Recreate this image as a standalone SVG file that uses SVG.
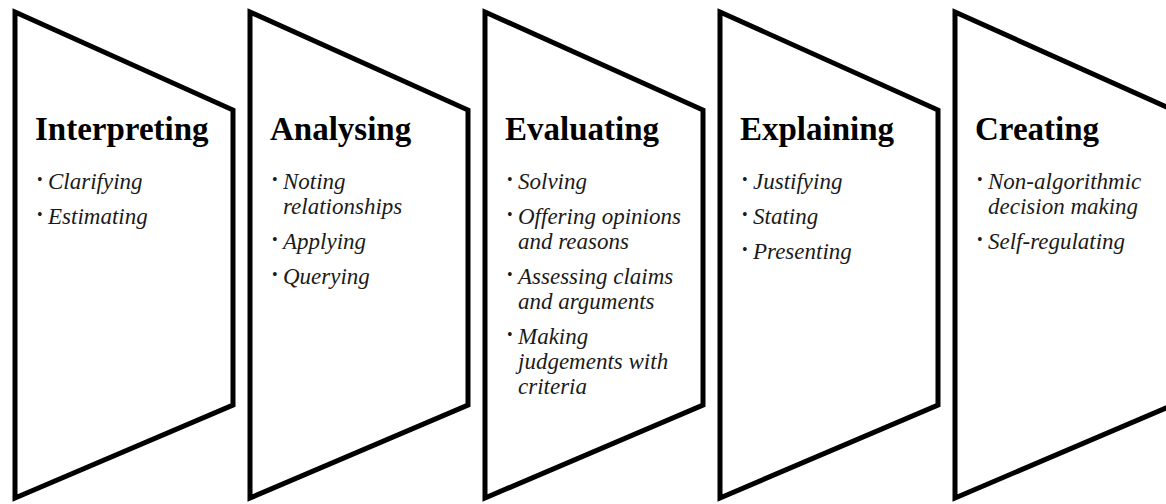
<svg xmlns="http://www.w3.org/2000/svg" width="1166" height="504" viewBox="0 0 1166 504">
  <style>
    .panel { fill: #ffffff; stroke: #000000; stroke-width: 5; stroke-linejoin: miter; }
    .title { font-family: "Liberation Serif", "Times New Roman", serif; font-weight: bold; font-size: 33px; fill: #000; }
    .item { font-family: "Liberation Serif", "Times New Roman", serif; font-style: italic; font-size: 23px; fill: #1a1a1a; }
    .dot { font-family: "Liberation Serif", "Times New Roman", serif; font-size: 16px; fill: #1a1a1a; }
  </style>
  <defs>
    <!-- one stage panel: tall left edge narrowing to a shorter right edge -->
    <path id="stage" class="panel" d="M 0 12 L 218 110 L 218 405 L 0 498 Z"/>
  </defs>
  <rect width="1166" height="504" fill="#ffffff"/>

  <g id="connectors"></g>

  <g id="interpreting" transform="translate(15,0)">
    <use href="#stage"/>
    <text class="title" x="20" y="140">Interpreting</text>
    <text class="dot" x="22" y="185">•</text>
    <text class="item" x="33" y="189">Clarifying</text>
    <text class="dot" x="22" y="220">•</text>
    <text class="item" x="33" y="224">Estimating</text>
  </g>

  <g id="analysing" transform="translate(250,0)">
    <use href="#stage"/>
    <text class="title" x="20" y="140">Analysing</text>
    <text class="dot" x="22" y="185">•</text>
    <text class="item" x="33" y="189">Noting</text>
    <text class="item" x="33" y="214">relationships</text>
    <text class="dot" x="22" y="245">•</text>
    <text class="item" x="33" y="249">Applying</text>
    <text class="dot" x="22" y="280">•</text>
    <text class="item" x="33" y="284">Querying</text>
  </g>

  <g id="evaluating" transform="translate(485,0)">
    <use href="#stage"/>
    <text class="title" x="20" y="140">Evaluating</text>
    <text class="dot" x="22" y="185">•</text>
    <text class="item" x="33" y="189">Solving</text>
    <text class="dot" x="22" y="220">•</text>
    <text class="item" x="33" y="224">Offering opinions</text>
    <text class="item" x="33" y="249">and reasons</text>
    <text class="dot" x="22" y="280">•</text>
    <text class="item" x="33" y="284">Assessing claims</text>
    <text class="item" x="33" y="309">and arguments</text>
    <text class="dot" x="22" y="340">•</text>
    <text class="item" x="33" y="344">Making</text>
    <text class="item" x="33" y="369">judgements with</text>
    <text class="item" x="33" y="394">criteria</text>
  </g>

  <g id="explaining" transform="translate(720,0)">
    <use href="#stage"/>
    <text class="title" x="20" y="140">Explaining</text>
    <text class="dot" x="22" y="185">•</text>
    <text class="item" x="33" y="189">Justifying</text>
    <text class="dot" x="22" y="220">•</text>
    <text class="item" x="33" y="224">Stating</text>
    <text class="dot" x="22" y="255">•</text>
    <text class="item" x="33" y="259">Presenting</text>
  </g>

  <g id="creating" transform="translate(955,0)">
    <use href="#stage"/>
    <text class="title" x="20" y="140">Creating</text>
    <text class="dot" x="22" y="185">•</text>
    <text class="item" x="33" y="189">Non-algorithmic</text>
    <text class="item" x="33" y="214">decision making</text>
    <text class="dot" x="22" y="245">•</text>
    <text class="item" x="33" y="249">Self-regulating</text>
  </g>
</svg>
